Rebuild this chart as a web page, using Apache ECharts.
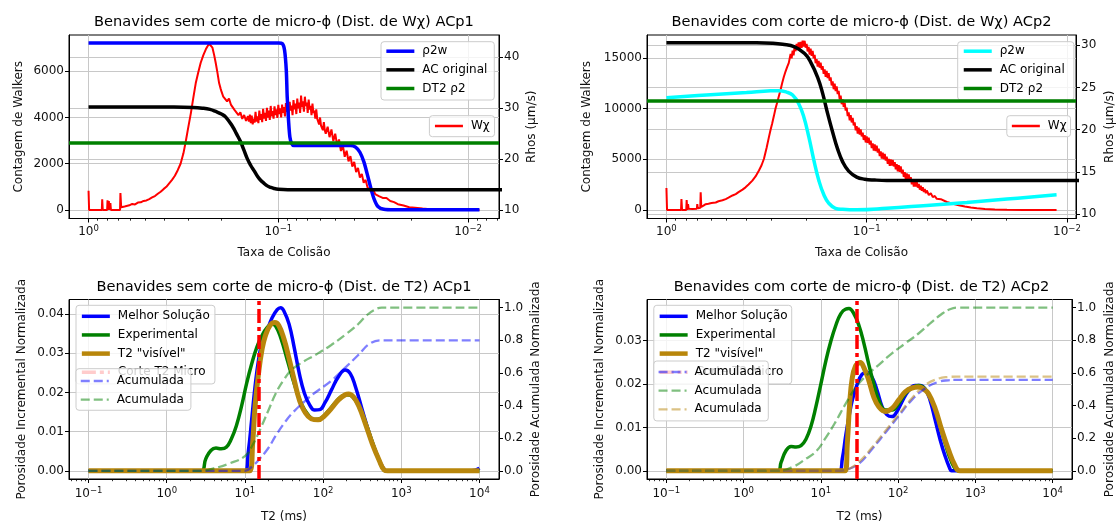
<!DOCTYPE html>
<html>
<head>
<meta charset="utf-8">
<script src="https://cdn.jsdelivr.net/npm/echarts@6/dist/echarts.min.js"></script>
<style>
  html, body { margin: 0; padding: 0; background: #ffffff; }
  #chart { width: 1117px; height: 524px; }
</style>
</head>
<body>
<div id="chart"></div>
<script>
// ---------------------------------------------------------------------------
// Data. Collision-rate panels use x = log10(taxa de colisão); T2 panels use
// x = log10(T2 / ms). Both x axes are logarithmic, so the exponent is stored.
// ---------------------------------------------------------------------------

// ACp1 – Wχ walker counts (left axis)
const wchiAcp1 = [
  [0, 830], [-0.003, 0], [-0.07, 0], [-0.072, 466], [-0.075, 0], [-0.098, 0], [-0.1, 420], [-0.103, 0],
  [-0.107, 380], [-0.11, 0], [-0.115, 300], [-0.118, 0], [-0.166, 0], [-0.168, 730], [-0.172, 120],
  [-0.18, 170], [-0.19, 150], [-0.2, 220], [-0.215, 200], [-0.23, 260], [-0.245, 240], [-0.26, 320],
  [-0.275, 330], [-0.29, 390], [-0.305, 410], [-0.32, 470], [-0.335, 540], [-0.35, 600], [-0.365, 700],
  [-0.38, 790], [-0.395, 900], [-0.41, 1000], [-0.425, 1150], [-0.44, 1300], [-0.455, 1480], [-0.47, 1720],
  [-0.485, 2000], [-0.5, 2450], [-0.512, 2950], [-0.525, 3550], [-0.539, 4180], [-0.552, 4850],
  [-0.565, 5490], [-0.578, 5950], [-0.591, 6370], [-0.605, 6700], [-0.618, 6950], [-0.627, 7080],
  [-0.635, 7200], [-0.64, 7120], [-0.645, 7220], [-0.653, 7020], [-0.662, 6700], [-0.67, 6370],
  [-0.679, 5950], [-0.688, 5490], [-0.696, 5250],
  [-0.70, 5140], [-0.71, 4900], [-0.72, 4950], [-0.73, 4700], [-0.74, 4820], [-0.75, 4560], [-0.76, 4620],
  [-0.77, 4320], [-0.78, 4380], [-0.79, 4100], [-0.80, 4230], [-0.81, 3940], [-0.82, 4110], [-0.83, 3850],
  [-0.840, 4060], [-0.845, 3820], [-0.850, 4120], [-0.855, 3760], [-0.860, 4080], [-0.865, 3700],
  [-0.870, 3950], [-0.875, 3780], [-0.880, 4250], [-0.885, 3820], [-0.890, 4050], [-0.895, 3760],
  [-0.900, 4300], [-0.905, 3900], [-0.910, 4150], [-0.915, 3800], [-0.920, 4380], [-0.925, 3950],
  [-0.930, 4200], [-0.935, 3850], [-0.940, 4420], [-0.945, 4000], [-0.950, 4300], [-0.955, 3900],
  [-0.960, 4500], [-0.965, 4050], [-0.970, 4280], [-0.975, 3950], [-0.980, 4480], [-0.985, 4100],
  [-0.990, 4350], [-0.995, 3980], [-1.000, 4550], [-1.005, 4150], [-1.010, 4400], [-1.015, 4000],
  [-1.020, 4560], [-1.025, 4200], [-1.030, 4450], [-1.035, 4050], [-1.040, 4620], [-1.045, 4250],
  [-1.050, 4480], [-1.055, 4080], [-1.060, 4680], [-1.065, 4300], [-1.070, 4520], [-1.075, 4100],
  [-1.080, 4750], [-1.085, 4350], [-1.090, 4600], [-1.095, 4150], [-1.100, 4820], [-1.105, 4400],
  [-1.110, 4650], [-1.115, 4200], [-1.120, 4950], [-1.125, 4450], [-1.130, 4700], [-1.135, 4250],
  [-1.140, 4900], [-1.145, 4500], [-1.150, 4650], [-1.155, 4200], [-1.160, 4780], [-1.165, 4350],
  [-1.170, 4500], [-1.175, 4100], [-1.180, 4600], [-1.185, 4200], [-1.190, 4300], [-1.195, 3950],
  [-1.200, 4350], [-1.205, 3950], [-1.210, 3900], [-1.215, 3700], [-1.220, 4000], [-1.225, 3650],
  [-1.230, 3700], [-1.235, 3450], [-1.240, 3800], [-1.245, 3450], [-1.250, 3300],
  [-1.26, 3600], [-1.27, 3150], [-1.28, 3480], [-1.29, 2980], [-1.30, 3300], [-1.31, 2800], [-1.32, 3050],
  [-1.33, 2550], [-1.34, 2800], [-1.35, 2300], [-1.36, 2560], [-1.37, 2100], [-1.38, 2330], [-1.39, 1880],
  [-1.40, 2080], [-1.41, 1640], [-1.42, 1820], [-1.43, 1400], [-1.44, 1560], [-1.45, 1180], [-1.46, 1300],
  [-1.47, 980], [-1.48, 1060], [-1.49, 800], [-1.50, 890], [-1.51, 690], [-1.52, 750], [-1.53, 600],
  [-1.54, 640], [-1.55, 520], [-1.57, 520], [-1.59, 390], [-1.61, 340], [-1.63, 250], [-1.66, 190],
  [-1.69, 120], [-1.72, 100], [-1.76, 58], [-1.80, 35], [-1.85, 15], [-1.90, 5], [-2.06, 0]
];
// ACp1 – ρ2w, AC original (right axis, µm/s) and the DT2 ρ2 level
const rho2wAcp1 = [
  [0, 42.75], [-0.9, 42.75], [-1.0, 42.72], [-1.021, 42.6], [-1.033, 41.3], [-1.042, 37.4], [-1.047, 32.1],
  [-1.054, 27.5], [-1.061, 24.3], [-1.07, 23.0], [-1.082, 22.6], [-1.2, 22.6], [-1.381, 22.6],
  [-1.407, 22.3], [-1.43, 21.3], [-1.451, 19.4], [-1.468, 17.1], [-1.486, 14.5], [-1.504, 12.2],
  [-1.525, 10.65], [-1.556, 10.1], [-1.61, 10.0], [-2.06, 10.0]
];
const acOriginalAcp1 = [
  [0, 30.17], [-0.45, 30.17], [-0.55, 30.1], [-0.6, 29.95], [-0.64, 29.7], [-0.67, 29.3], [-0.7, 28.8],
  [-0.723, 28.2], [-0.758, 26.4], [-0.78, 24.9], [-0.802, 23.3], [-0.82, 21.6], [-0.837, 20.0],
  [-0.855, 18.7], [-0.872, 17.7], [-0.89, 16.6], [-0.907, 15.8], [-0.925, 15.2], [-0.942, 14.7],
  [-0.96, 14.4], [-0.977, 14.2], [-1.0, 14.05], [-1.05, 13.95], [-1.2, 13.93], [-2.3, 13.93]
];
const dt2Rho2Acp1 = 23.17;

// ACp2 – Wχ walker counts (left axis)
const wchiAcp2 = [
  [0, 2157], [-0.003, 0], [-0.073, 0], [-0.075, 1062], [-0.078, 0], [-0.099, 0], [-0.101, 962], [-0.104, 0],
  [-0.108, 560], [-0.111, 100], [-0.13, 80], [-0.152, 120], [-0.154, 560], [-0.157, 150], [-0.169, 200],
  [-0.171, 1725], [-0.174, 300], [-0.185, 420], [-0.196, 564], [-0.21, 600], [-0.225, 680], [-0.246, 730],
  [-0.26, 850], [-0.28, 950], [-0.296, 1062], [-0.31, 1200], [-0.33, 1420], [-0.346, 1560], [-0.36, 1750],
  [-0.38, 2000], [-0.395, 2223], [-0.41, 2500], [-0.429, 2887], [-0.445, 3300], [-0.462, 3882],
  [-0.475, 4400], [-0.487, 5043], [-0.5, 6100], [-0.512, 7200], [-0.52, 7900], [-0.528, 8527],
  [-0.537, 9300], [-0.545, 10020], [-0.553, 10600], [-0.561, 11180], [-0.57, 11850], [-0.578, 12509],
  [-0.586, 13100], [-0.595, 13670], [-0.603, 14100], [-0.611, 14500],
  [-0.620, 15380], [-0.625, 14950], [-0.630, 15720], [-0.635, 15250], [-0.640, 16100], [-0.645, 15650],
  [-0.650, 16380], [-0.655, 15925], [-0.660, 16530], [-0.665, 15950], [-0.670, 16570], [-0.675, 15975],
  [-0.680, 16700], [-0.685, 16100], [-0.690, 16680], [-0.695, 16000], [-0.700, 16380], [-0.705, 15625],
  [-0.710, 16070], [-0.715, 15325], [-0.720, 15900], [-0.725, 15200], [-0.730, 15680], [-0.735, 14950],
  [-0.740, 15280], [-0.745, 14475], [-0.750, 14870], [-0.755, 14125], [-0.760, 14700], [-0.765, 14025],
  [-0.770, 14530], [-0.775, 13825], [-0.780, 14180], [-0.785, 13425], [-0.790, 13870], [-0.795, 13125],
  [-0.800, 13700], [-0.805, 13000], [-0.810, 13480], [-0.815, 12750], [-0.820, 13080], [-0.825, 12275],
  [-0.830, 12670], [-0.835, 11900], [-0.840, 12450], [-0.845, 11725], [-0.850, 12180], [-0.855, 11425],
  [-0.860, 11730], [-0.865, 10900], [-0.870, 11270], [-0.875, 10425], [-0.880, 10900], [-0.885, 10150],
  [-0.890, 10580], [-0.895, 9800], [-0.900, 10080], [-0.905, 9250], [-0.910, 9620], [-0.915, 8825],
  [-0.920, 9350], [-0.925, 8625], [-0.930, 9080], [-0.935, 8325], [-0.940, 8630], [-0.945, 7850],
  [-0.950, 8270], [-0.955, 7525], [-0.960, 8100], [-0.965, 7425], [-0.970, 7930], [-0.975, 7250],
  [-0.980, 7630], [-0.985, 6900], [-0.990, 7370], [-0.995, 6650], [-1.000, 7250], [-1.005, 6600],
  [-1.010, 7130], [-1.015, 6450], [-1.020, 6830], [-1.025, 6100], [-1.030, 6570], [-1.035, 5850],
  [-1.040, 6450], [-1.045, 5800], [-1.050, 6330], [-1.055, 5650], [-1.060, 6030], [-1.065, 5300],
  [-1.070, 5770], [-1.075, 5050], [-1.080, 5650], [-1.085, 5000], [-1.090, 5530], [-1.095, 4865],
  [-1.100, 5260], [-1.105, 4550], [-1.110, 5040], [-1.115, 4350], [-1.120, 4980], [-1.125, 4365],
  [-1.130, 4930], [-1.135, 4285], [-1.140, 4700], [-1.145, 4000], [-1.150, 4500], [-1.155, 3790],
  [-1.160, 4400], [-1.165, 3750], [-1.170, 4280], [-1.175, 3600], [-1.180, 3980], [-1.185, 3250],
  [-1.190, 3720], [-1.195, 3000], [-1.200, 3600], [-1.205, 2960], [-1.210, 3500], [-1.215, 2835],
  [-1.220, 3230], [-1.225, 2515], [-1.230, 3000], [-1.235, 2300], [-1.240, 2920], [-1.245, 2295],
  [-1.250, 2770], [-1.255, 2195], [-1.260, 2570], [-1.265, 1995], [-1.270, 2390], [-1.275, 1880],
  [-1.280, 2230], [-1.285, 1760], [-1.290, 2070], [-1.295, 1640], [-1.300, 1910],
  [-1.31, 1470], [-1.32, 1640], [-1.33, 1260], [-1.34, 1370], [-1.35, 1090],
  [-1.37, 1060], [-1.40, 780], [-1.43, 600], [-1.46, 450], [-1.49, 330],
  [-1.52, 230], [-1.55, 150], [-1.59, 90], [-1.64, 40], [-1.70, 10], [-1.78, 0], [-1.948, 0]
];
// ACp2 – ρ2w, AC original (right axis, µm/s) and the DT2 ρ2 level
const rho2wAcp2 = [
  [0, 23.77], [-0.2, 24.1], [-0.4, 24.4], [-0.52, 24.6], [-0.56, 24.62], [-0.6, 24.45], [-0.63, 24.1],
  [-0.66, 23.1], [-0.686, 21.5], [-0.711, 19.15], [-0.736, 16.4], [-0.761, 14.0], [-0.786, 12.3],
  [-0.811, 11.3], [-0.844, 10.7], [-0.88, 10.58], [-0.95, 10.52], [-1.1, 10.7], [-1.3, 11.05],
  [-1.5, 11.4], [-1.7, 11.8], [-1.948, 12.3]
];
const acOriginalAcp2 = [
  [0, 30.27], [-0.45, 30.27], [-0.53, 30.22], [-0.58, 30.1], [-0.64, 29.8], [-0.69, 29.0], [-0.72, 28.0],
  [-0.755, 26.2], [-0.78, 24.3], [-0.805, 21.9], [-0.83, 19.7], [-0.855, 17.7], [-0.88, 16.2],
  [-0.91, 15.1], [-0.95, 14.4], [-0.99, 14.15], [-1.04, 14.05], [-1.1, 14.0], [-2.2, 14.0]
];
const dt2Rho2Acp2 = 23.37;

// ACp1 – T2 distributions (incremental, left axis) and cumulative (right axis)
const bestAcp1 = [
  [-1, 0], [0.9, 0], [1.0, 0], [1.043, 0.0048], [1.087, 0.0131], [1.13, 0.0215], [1.174, 0.0282],
  [1.217, 0.0324], [1.283, 0.0357], [1.348, 0.039], [1.413, 0.0411], [1.457, 0.0416], [1.5, 0.0407],
  [1.565, 0.0374], [1.63, 0.0315], [1.696, 0.0248], [1.761, 0.0198], [1.826, 0.0169], [1.891, 0.0155],
  [1.957, 0.0156], [2.022, 0.0173], [2.109, 0.0207], [2.196, 0.024], [2.283, 0.0257], [2.348, 0.0248],
  [2.413, 0.0215], [2.5, 0.0156], [2.587, 0.0098], [2.674, 0.0048], [2.761, 0.001], [2.813, 0],
  [3.9, 0], [4.0, 0.0007]
];
const expAcp1 = [
  [-1, 0], [0.435, 0], [0.5, 0.0031], [0.565, 0.0052], [0.63, 0.0058], [0.696, 0.0056], [0.761, 0.006],
  [0.826, 0.0081], [0.891, 0.0115], [0.957, 0.0165], [1.022, 0.0223], [1.087, 0.0273], [1.152, 0.0315],
  [1.217, 0.0344], [1.283, 0.0365], [1.348, 0.0374], [1.391, 0.037], [1.457, 0.034], [1.543, 0.0282],
  [1.63, 0.0223], [1.717, 0.0173], [1.804, 0.0144], [1.891, 0.0131], [1.978, 0.0135], [2.065, 0.0152],
  [2.152, 0.0173], [2.239, 0.019], [2.304, 0.0194], [2.37, 0.019], [2.457, 0.0165], [2.543, 0.0123],
  [2.63, 0.0073], [2.717, 0.0027], [2.783, 0.0002], [2.826, 0], [4, 0]
];
const visibleAcp1 = [
  [-1, 0], [1.06, 0], [1.1, 0.0073], [1.13, 0.0165], [1.174, 0.0248], [1.217, 0.0307], [1.261, 0.0344],
  [1.326, 0.0372], [1.383, 0.0378], [1.435, 0.037], [1.5, 0.0336], [1.565, 0.0286], [1.63, 0.0232],
  [1.696, 0.0181], [1.761, 0.0152], [1.848, 0.0133], [1.935, 0.013], [2.022, 0.0141], [2.109, 0.016],
  [2.196, 0.0181], [2.283, 0.0194], [2.326, 0.0196], [2.391, 0.0188], [2.457, 0.0165], [2.543, 0.0119],
  [2.63, 0.0069], [2.717, 0.0027], [2.783, 0.0002], [2.826, 0], [4, 0]
];
const cumBestAcp1 = [
  [-1, 0], [1.0, 0], [1.1, 0.03], [1.2, 0.08], [1.3, 0.14], [1.4, 0.22], [1.5, 0.29], [1.6, 0.35],
  [1.75, 0.42], [1.9, 0.48], [2.1, 0.55], [2.3, 0.64], [2.45, 0.71], [2.6, 0.78], [2.75, 0.8], [4, 0.8]
];
const cumExpAcp1 = [
  [-1, 0], [0.43, 0], [0.6, 0.015], [0.8, 0.045], [1.0, 0.09], [1.1, 0.16], [1.2, 0.26], [1.3, 0.37],
  [1.4, 0.48], [1.5, 0.56], [1.6, 0.62], [1.75, 0.67], [1.9, 0.71], [2.1, 0.77], [2.3, 0.84], [2.45, 0.9],
  [2.55, 0.95], [2.65, 0.985], [2.75, 1.0], [4, 1.0]
];
const cutoffAcp1 = 1.18;

// ACp2 – T2 distributions (incremental, left axis) and cumulative (right axis)
const bestAcp2 = [
  [-1, 0], [1.236, 0], [1.278, 0.0028], [1.321, 0.008], [1.364, 0.0125], [1.407, 0.0163], [1.471, 0.02],
  [1.535, 0.0223], [1.6, 0.0227], [1.664, 0.0215], [1.728, 0.0185], [1.792, 0.0148], [1.856, 0.0129],
  [1.921, 0.0125], [1.985, 0.0137], [2.049, 0.0159], [2.135, 0.0185], [2.221, 0.0197], [2.285, 0.0197],
  [2.349, 0.0189], [2.413, 0.0163], [2.478, 0.0118], [2.542, 0.0073], [2.606, 0.0035], [2.67, 0.0005],
  [2.692, 0], [4, 0]
];
const expAcp2 = [
  [-1, 0], [0.443, 0], [0.486, 0.002], [0.55, 0.0047], [0.615, 0.0056], [0.679, 0.0055], [0.743, 0.0058],
  [0.807, 0.0073], [0.872, 0.0103], [0.936, 0.0148], [1.0, 0.02], [1.064, 0.0253], [1.128, 0.0298],
  [1.193, 0.0335], [1.257, 0.0362], [1.321, 0.0373], [1.364, 0.0374], [1.428, 0.0362], [1.493, 0.0335],
  [1.557, 0.0294], [1.621, 0.0245], [1.685, 0.02], [1.749, 0.0163], [1.835, 0.014], [1.921, 0.014],
  [2.006, 0.0155], [2.092, 0.0178], [2.178, 0.0191], [2.263, 0.0197], [2.349, 0.0189], [2.435, 0.0163],
  [2.52, 0.0118], [2.606, 0.0065], [2.692, 0.002], [2.756, 0.0002], [2.799, 0], [4, 0]
];
const visibleAcp2 = [
  [-1, 0], [1.313, 0], [1.343, 0.0065], [1.373, 0.0155], [1.407, 0.0215], [1.45, 0.0242], [1.493, 0.0249],
  [1.51, 0.025], [1.557, 0.0238], [1.621, 0.0208], [1.685, 0.017], [1.749, 0.0148], [1.835, 0.0137],
  [1.921, 0.0144], [2.006, 0.0163], [2.092, 0.0182], [2.178, 0.0191], [2.263, 0.0193], [2.328, 0.0189],
  [2.392, 0.0178], [2.478, 0.0144], [2.563, 0.0095], [2.649, 0.005], [2.734, 0.0013], [2.799, 0], [4, 0]
];
const cumBestAcp2 = [
  [-1, 0], [1.25, 0], [1.321, 0.005], [1.493, 0.044], [1.664, 0.134], [1.835, 0.234], [2.006, 0.335],
  [2.178, 0.435], [2.349, 0.505], [2.52, 0.545], [2.649, 0.555], [2.75, 0.557], [4, 0.557]
];
const cumExpAcp2 = [
  [-1, 0], [0.44, 0], [0.64, 0.025], [0.81, 0.075], [0.94, 0.12], [1.06, 0.2], [1.19, 0.3], [1.32, 0.41],
  [1.45, 0.51], [1.58, 0.58], [1.75, 0.65], [1.92, 0.72], [2.09, 0.78], [2.26, 0.84], [2.43, 0.91],
  [2.56, 0.96], [2.67, 0.99], [2.78, 1.0], [4, 1.0]
];
const cumVisibleAcp2 = [
  [-1, 0], [1.3, 0], [1.35, 0.008], [1.493, 0.054], [1.664, 0.144], [1.835, 0.244], [2.006, 0.345],
  [2.178, 0.445], [2.349, 0.525], [2.52, 0.565], [2.649, 0.575], [2.75, 0.577], [4, 0.577]
];
const cutoffAcp2 = 1.46;

// Tick values
const rateDecades = [-2, -1, 0];
const t2Decades = [-1, 0, 1, 2, 3, 4];
const walkerTicksAcp1 = [0, 2000, 4000, 6000];
const rhoTicksAcp1 = [10, 20, 30, 40];
const walkerTicksAcp2 = [0, 5000, 10000, 15000];
const rhoTicksAcp2 = [10, 15, 20, 25, 30];
const incTicksAcp1 = [0, 0.01, 0.02, 0.03, 0.04];
const incTicksAcp2 = [0, 0.01, 0.02, 0.03];
const cumTicks = [0, 0.2, 0.4, 0.6, 0.8, 1.0];

// Titles
const titles = [
  'Benavides sem corte de micro-\u03d5 (Dist. de W\u03c7) ACp1',
  'Benavides com corte de micro-\u03d5 (Dist. de W\u03c7) ACp2',
  'Benavides sem corte de micro-\u03d5 (Dist. de T2) ACp1',
  'Benavides com corte de micro-\u03d5 (Dist. de T2) ACp2'
];

// ---------------------------------------------------------------------------
// Styling helpers
// ---------------------------------------------------------------------------
const FONT = 'DejaVu Sans';
const INK = '#111111';
const GRIDLINE = '#c8c8c8';
const BLUE = '#0000ff', BLACK = '#000000', GREEN = '#008000', CYAN = '#00ffff', RED = '#ff0000', GOLD = '#b8860b';
const DASH = [9, 4];
const DASH_DOT = [14, 4, 4, 4];

function expLabel(v) {
  const e = Math.round(v);
  return '{b|10}{s|' + (e < 0 ? '\u2212' + (-e) : String(e)) + '}';
}
const EXP_RICH = {
  b: { fontSize: 12, fontFamily: FONT, color: INK },
  s: { fontSize: 8.5, fontFamily: FONT, color: INK, padding: [0, 0, 6, 0] }
};

function minorLogTicks(min, max) {
  const out = [];
  for (let e = Math.floor(min) - 1; e <= Math.ceil(max); e++) {
    for (let k = 2; k <= 9; k++) {
      const v = e + Math.log10(k);
      if (v > min && v < max) out.push(v);
    }
  }
  return out;
}

const nameStyle = { fontSize: 12, fontFamily: FONT, color: INK };
const tickLine = { color: '#000', width: 1 };

function logXAxes(gridIndex, min, max, inverse, decades, name, nameGap, labelMargin) {
  return [{
    type: 'value', gridIndex, min, max, inverse, position: 'bottom',
    name, nameLocation: 'middle', nameGap, nameTextStyle: nameStyle,
    axisLine: { show: true, onZero: false, lineStyle: tickLine },
    axisTick: { show: true, customValues: decades, length: 4, lineStyle: tickLine },
    axisLabel: { show: true, customValues: decades, formatter: expLabel, rich: EXP_RICH, margin: labelMargin },
    splitLine: { show: true, lineStyle: { color: GRIDLINE, width: 1 } }
  }, {
    type: 'value', gridIndex, min, max, inverse, position: 'bottom',
    axisLine: { show: false, onZero: false },
    axisTick: { show: true, customValues: minorLogTicks(min, max), length: 2.2, lineStyle: { color: '#000', width: 0.8 } },
    axisLabel: { show: false },
    splitLine: { show: false }
  }];
}

function valueYAxis(gridIndex, position, min, max, ticks, fmt, name, nameGap, showGrid) {
  return {
    type: 'value', gridIndex, position, min, max,
    name, nameLocation: 'middle', nameGap, nameRotate: 90, nameTextStyle: nameStyle,
    axisLine: { show: true, onZero: false, lineStyle: tickLine },
    axisTick: { show: true, customValues: ticks, length: 4, lineStyle: tickLine },
    axisLabel: { customValues: ticks, formatter: fmt, fontSize: 12, fontFamily: FONT, color: INK, margin: 5 },
    splitLine: { show: showGrid, lineStyle: { color: GRIDLINE, width: 1 } }
  };
}

function curve(name, panel, side, data, color, width, opts) {
  opts = opts || {};
  return {
    type: 'line', name, xAxisIndex: panel * 2, yAxisIndex: panel * 2 + side, data,
    symbol: 'none', showSymbol: false, silent: true, z: opts.z || 2,
    smooth: opts.smooth || false,
    lineStyle: { color, width, type: opts.type || 'solid', opacity: opts.opacity == null ? 1 : opts.opacity },
    itemStyle: { color }
  };
}

function refLine(name, panel, side, key, value, color, width, type) {
  return {
    type: 'line', name, xAxisIndex: panel * 2, yAxisIndex: panel * 2 + side, data: [],
    symbol: 'none', silent: true,
    lineStyle: { color, width, type }, itemStyle: { color },
    markLine: {
      silent: true, symbol: ['none', 'none'], label: { show: false },
      lineStyle: { color, width, type },
      emphasis: { disabled: true },
      data: [{ [key]: value }]
    }
  };
}

function legendItem(name, color, width, type, opacity) {
  return { name, lineStyle: { color, width, type: type || 'solid', opacity: opacity == null ? 1 : opacity } };
}

function legendBox(left, top, padding, items, z) {
  return {
    orient: 'vertical', left, top, padding, z,
    itemWidth: 28, itemHeight: 14, itemGap: 4.65,
    backgroundColor: 'rgba(255,255,255,0.8)', borderColor: '#cccccc', borderWidth: 1, borderRadius: 3,
    textStyle: { fontSize: 12, fontFamily: FONT, color: '#000', padding: [0, 0, 0, 3], lineHeight: 14 },
    itemStyle: { opacity: 0 },
    selectedMode: false,
    formatter: n => n.replace(/ \([^()]*\)$/, ''),
    data: items
  };
}

// ---------------------------------------------------------------------------
// Layout: four panels, each with a log x axis and twin y axes
// ---------------------------------------------------------------------------
const grids = [
  { left: 69, right: 618, top: 35, bottom: 305.5 },
  { left: 647, right: 41, top: 35, bottom: 305.5 },
  { left: 69, right: 618, top: 299.5, bottom: 42 },
  { left: 647, right: 41, top: 299.5, bottom: 42 }
].map(g => Object.assign({ show: true, borderColor: '#000', borderWidth: 1, backgroundColor: 'transparent' }, g));

const xAxes = [].concat(
  logXAxes(0, -2.163, 0.103, true, rateDecades, 'Taxa de Colisão', 28, 6),
  logXAxes(1, -2.045, 0.097, true, rateDecades, 'Taxa de Colisão', 28, 6),
  logXAxes(2, -1.25, 4.25, false, t2Decades, 'T2 (ms)', 32, 7),
  logXAxes(3, -1.25, 4.25, false, t2Decades, 'T2 (ms)', 32, 7)
);

const intFmt = v => String(v);
const f2 = v => v.toFixed(2);
const f1 = v => v.toFixed(1);

const yAxes = [
  valueYAxis(0, 'left', -370, 7570, walkerTicksAcp1, intFmt, 'Contagem de Walkers', 44, true),
  valueYAxis(0, 'right', 8.3, 44.3, rhoTicksAcp1, intFmt, 'Rhos (\u03bcm/s)', 27, true),
  valueYAxis(1, 'left', -850, 17250, walkerTicksAcp2, intFmt, 'Contagem de Walkers', 54, true),
  valueYAxis(1, 'right', 9.5, 31.2, rhoTicksAcp2, intFmt, 'Rhos (\u03bcm/s)', 28, true),
  valueYAxis(2, 'left', -0.00208, 0.04368, incTicksAcp1, f2, 'Porosidade Incremental Normalizada', 41, true),
  valueYAxis(2, 'right', -0.05, 1.05, cumTicks, f1, 'Porosidade Acumulada Normalizada', 31, false),
  valueYAxis(3, 'left', -0.00188, 0.0395, incTicksAcp2, f2, 'Porosidade Incremental Normalizada', 41.5, true),
  valueYAxis(3, 'right', -0.05, 1.05, cumTicks, f1, 'Porosidade Acumulada Normalizada', 32, false)
];

const SM = 0.45;
const series = [
  // Panel 0 – ACp1 collision-rate distribution
  curve('W\u03c7 (ACp1)', 0, 0, wchiAcp1, RED, 2),
  curve('\u03c12w (ACp1)', 0, 1, rho2wAcp1, BLUE, 3.5, { smooth: 0.3 }),
  curve('AC original (ACp1)', 0, 1, acOriginalAcp1, BLACK, 3.5, { smooth: SM }),
  refLine('DT2 \u03c12 (ACp1)', 0, 1, 'yAxis', dt2Rho2Acp1, GREEN, 3.5, 'solid'),
  // Panel 1 – ACp2 collision-rate distribution
  curve('W\u03c7 (ACp2)', 1, 0, wchiAcp2, RED, 2),
  curve('\u03c12w (ACp2)', 1, 1, rho2wAcp2, CYAN, 3.5, { smooth: SM }),
  curve('AC original (ACp2)', 1, 1, acOriginalAcp2, BLACK, 3.5, { smooth: SM }),
  refLine('DT2 \u03c12 (ACp2)', 1, 1, 'yAxis', dt2Rho2Acp2, GREEN, 3.5, 'solid'),
  // Panel 2 – ACp1 T2 distribution
  curve('Melhor Solução (ACp1)', 2, 0, bestAcp1, BLUE, 3.5, { smooth: SM }),
  curve('Experimental (ACp1)', 2, 0, expAcp1, GREEN, 3.5, { smooth: SM }),
  curve('T2 "visível" (ACp1)', 2, 0, visibleAcp1, GOLD, 5, { smooth: SM }),
  refLine('Corte T2 Micro (ACp1)', 2, 0, 'xAxis', cutoffAcp1, RED, 3.5, DASH_DOT),
  curve('Acumulada (Melhor Solução ACp1)', 2, 1, cumBestAcp1, BLUE, 2.3, { smooth: SM, type: DASH, opacity: 0.5, z: 3 }),
  curve('Acumulada (Experimental ACp1)', 2, 1, cumExpAcp1, GREEN, 2.3, { smooth: SM, type: DASH, opacity: 0.5, z: 3 }),
  // Panel 3 – ACp2 T2 distribution
  curve('Melhor Solução (ACp2)', 3, 0, bestAcp2, BLUE, 3.5, { smooth: SM }),
  curve('Experimental (ACp2)', 3, 0, expAcp2, GREEN, 3.5, { smooth: SM }),
  curve('T2 "visível" (ACp2)', 3, 0, visibleAcp2, GOLD, 5, { smooth: SM }),
  refLine('Corte T2 Micro (ACp2)', 3, 0, 'xAxis', cutoffAcp2, RED, 3.5, DASH_DOT),
  curve('Acumulada (Melhor Solução ACp2)', 3, 1, cumBestAcp2, BLUE, 2.3, { smooth: SM, type: DASH, opacity: 0.5, z: 3 }),
  curve('Acumulada (Experimental ACp2)', 3, 1, cumExpAcp2, GREEN, 2.3, { smooth: SM, type: DASH, opacity: 0.5, z: 3 }),
  curve('Acumulada (T2 visível ACp2)', 3, 1, cumVisibleAcp2, GOLD, 2.3, { smooth: SM, type: DASH, opacity: 0.5, z: 3 })
];

const legends = [
  legendBox(381, 41.7, [2.5, 6.9, 4.5, 3.6], [
    legendItem('\u03c12w (ACp1)', BLUE, 3.5), legendItem('AC original (ACp1)', BLACK, 3.5),
    legendItem('DT2 \u03c12 (ACp1)', GREEN, 3.5)], 5),
  legendBox(429.4, 115.7, [3.3, 4.8, 3.7, 4.3], [legendItem('W\u03c7 (ACp1)', RED, 2.5)], 5),
  legendBox(957.7, 41.7, [2.5, 9.1, 4.5, 4.3], [
    legendItem('\u03c12w (ACp2)', CYAN, 3.5), legendItem('AC original (ACp2)', BLACK, 3.5),
    legendItem('DT2 \u03c12 (ACp2)', GREEN, 3.5)], 5),
  legendBox(1006.8, 115.7, [3.3, 3.9, 3.7, 3.8], [legendItem('W\u03c7 (ACp2)', RED, 2.5)], 5),
  legendBox(76, 305.3, [4, 5.1, 4.7, 3.6], [
    legendItem('Melhor Solução (ACp1)', BLUE, 3.5), legendItem('Experimental (ACp1)', GREEN, 3.5),
    legendItem('T2 "visível" (ACp1)', GOLD, 4.5), legendItem('Corte T2 Micro (ACp1)', RED, 3.5, DASH_DOT)], 5),
  legendBox(76, 368.7, [5.3, 7, 3.6, 3.6], [
    legendItem('Acumulada (Melhor Solução ACp1)', BLUE, 2.3, DASH, 0.5),
    legendItem('Acumulada (Experimental ACp1)', GREEN, 2.3, DASH, 0.5)], 6),
  legendBox(653.8, 305.3, [4, 4.1, 4.7, 3.6], [
    legendItem('Melhor Solução (ACp2)', BLUE, 3.5), legendItem('Experimental (ACp2)', GREEN, 3.5),
    legendItem('T2 "visível" (ACp2)', GOLD, 4.5), legendItem('Corte T2 Micro (ACp2)', RED, 3.5, DASH_DOT)], 5),
  legendBox(653.8, 361, [4, 6.6, 4.6, 3.6], [
    legendItem('Acumulada (Melhor Solução ACp2)', BLUE, 2.3, DASH, 0.5),
    legendItem('Acumulada (Experimental ACp2)', GREEN, 2.3, DASH, 0.5),
    legendItem('Acumulada (T2 visível ACp2)', GOLD, 2.3, DASH, 0.5)], 6)
];

const titlePos = [[284, 22], [861.5, 22], [284, 287], [861.5, 287]];
const graphic = titles.map((t, i) => ({
  type: 'text', x: titlePos[i][0], y: titlePos[i][1], silent: true,
  style: { text: t, fontSize: 14.6, fontFamily: FONT, fill: '#000', align: 'center', verticalAlign: 'middle' }
}));

const chart = echarts.init(document.getElementById('chart'), null, { renderer: 'canvas' });
chart.setOption({
  animation: false,
  backgroundColor: '#ffffff',
  textStyle: { fontFamily: FONT },
  grid: grids,
  xAxis: xAxes,
  yAxis: yAxes,
  legend: legends,
  graphic,
  series
});
</script>
</body>
</html>
